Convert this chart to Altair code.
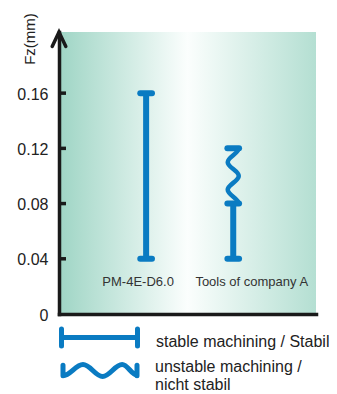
import altair as alt
import pandas as pd

# ---- data ----
categories = ["PM-4E-D6.0", "Tools of company A"]
positions = [1, 2]
stable_low = [0.04, 0.04]
stable_high = [0.16, 0.08]
unstable_low = [None, 0.08]
unstable_high = [None, 0.12]
y_ticks = [0, 0.04, 0.08, 0.12, 0.16]
legend_labels = ["stable machining / Stabil", "unstable machining /\nnicht stabil"]
y_title = "Fz(mm)"

BLUE = "#0a7bc2"
AXIS = "#1a1a1a"
TEXT = "#222222"
FONT = "Liberation Sans"

stable_df = pd.DataFrame({"pos": positions, "v": stable_low, "v2": stable_high})
caps_rows = []
for p, lo, hi, uh in zip(positions, stable_low, stable_high, unstable_high):
    for val in (lo, hi, uh):
        if val is not None:
            caps_rows.append({"pos": p, "v": val})
caps_df = pd.DataFrame(caps_rows)
wave_df = pd.DataFrame(
    [{"pos": p, "lo": lo, "hi": hi} for p, lo, hi in zip(positions, unstable_low, unstable_high) if lo is not None]
)
label_df = pd.DataFrame({"pos": positions, "cat": categories})
tick_df = pd.DataFrame({"v": [t for t in y_ticks if t > 0]})
one = pd.DataFrame({"a": [0]})

x_enc = alt.X(
    "pos:Q",
    scale=alt.Scale(domain=[0, 2.95], nice=False, zero=False),
    axis=alt.Axis(labels=False, ticks=False, grid=False, title=None,
                  domainColor=AXIS, domainWidth=3.5, domainCap="square", zindex=1),
)
y_enc = alt.Y(
    "v:Q",
    scale=alt.Scale(domain=[0, 0.2043], nice=False),
    axis=alt.Axis(values=y_ticks, format=".2~f", ticks=False, grid=False,
                  labelPadding=11, labelFontSize=16, labelFont=FONT, labelColor=TEXT,
                  labelOffset=1,
                  domainColor=AXIS, domainWidth=3.5, domainCap="square",
                  title=y_title, titleAngle=270, titleX=-25, titleY=6.5,
                  titleAlign="center", titleBaseline="alphabetic",
                  titleFontSize=15, titleFont=FONT, titleFontWeight="normal",
                  titleColor=TEXT, zindex=1),
)

gradient = alt.Gradient(
    gradient="linear",
    stops=[
        alt.GradientStop(color="#9fd5c5", offset=0),
        alt.GradientStop(color="#fbfefd", offset=0.5),
        alt.GradientStop(color="#b4dfd2", offset=1),
    ],
    x1=0, x2=1, y1=0, y2=0,
)

bg = alt.Chart(one).mark_rect(color=gradient).encode(
    x=alt.value(0), x2=alt.value("width"), y=alt.value(0), y2=alt.value("height")
)

bars = alt.Chart(stable_df).mark_rule(color=BLUE, strokeWidth=6).encode(
    x=x_enc, y=y_enc, y2="v2:Q"
)

caps = alt.Chart(caps_df).mark_point(
    shape="M-1,0L1,0", size=137, strokeWidth=6, strokeCap="round",
    filled=False, color=BLUE, opacity=1,
).encode(x=x_enc, y=y_enc)

wave_path = ("M0.2,-1 C0.2,-0.815 -0.2,-0.685 -0.2,-0.5 "
             "C-0.2,-0.315 0.2,-0.185 0.2,0 "
             "C0.2,0.185 -0.2,0.315 -0.2,0.5 "
             "C-0.2,0.685 0.2,0.815 0.2,1")
wave = alt.Chart(wave_df).transform_calculate(
    v="(datum.lo + datum.hi) / 2"
).mark_point(
    shape=wave_path, size=3047, strokeWidth=4.5, strokeCap="round",
    filled=False, color=BLUE, opacity=1,
).encode(x=x_enc, y=y_enc)

ticks = alt.Chart(tick_df).mark_rule(color=AXIS, strokeWidth=3.5).encode(
    x=alt.value(0), x2=alt.value(7), y=y_enc
)

arrow = alt.Chart(one).mark_point(
    shape="M-0.94,1L0,-1L0.94,1", size=210, strokeWidth=3.5, strokeCap="round",
    strokeJoin="miter", filled=False, color=AXIS, opacity=1,
).encode(x=alt.value(0), y=alt.value(7.25))

lab1 = alt.Chart(label_df).transform_filter("datum.pos == 1").mark_text(
    fontSize=13, font=FONT, color="#333333", baseline="alphabetic", dx=-8
).encode(x=x_enc, y=alt.datum(0.02), text="cat:N")
lab2 = alt.Chart(label_df).transform_filter("datum.pos == 2").mark_text(
    fontSize=13, font=FONT, color="#333333", baseline="alphabetic", dx=18.5
).encode(x=x_enc, y=alt.datum(0.02), text="cat:N")

leg_stable = alt.Chart(one).mark_point(
    shape="M-1,0L1,0M-1,-0.224L-1,0.224M1,-0.224L1,0.224", size=5776,
    strokeWidth=5, strokeCap="round", filled=False, color=BLUE, opacity=1,
).encode(x=alt.value(40.5), y=alt.value(305.5))

leg_wave_path = ("M-1,0.14 C-0.8,0.14 -0.66,-0.16 -0.46,-0.16 "
                 "C-0.264,-0.16 -0.126,0.16 0.07,0.16 "
                 "C0.266,0.16 0.404,-0.16 0.6,-0.16 "
                 "C0.748,-0.16 0.852,0.12 1,0.12 "
                 "M-1,-0.14L-1,0.14M1,-0.14L1,0.14")
leg_wave = alt.Chart(one).mark_point(
    shape=leg_wave_path, size=5476, strokeWidth=5, strokeCap="round",
    filled=False, color=BLUE, opacity=1,
).encode(x=alt.value(41), y=alt.value(338.5))

leg_t1 = alt.Chart(pd.DataFrame({"t": [legend_labels[0]]})).mark_text(
    align="left", baseline="alphabetic", fontSize=16, font=FONT, color=TEXT
).encode(x=alt.value(97), y=alt.value(315), text="t:N")
leg_t2 = alt.Chart(pd.DataFrame({"t": [legend_labels[1]]})).mark_text(
    align="left", baseline="alphabetic", fontSize=16, font=FONT, color=TEXT,
    lineBreak="\n", lineHeight=18.5,
).encode(x=alt.value(96), y=alt.value(339.5), text="t:N")

chart = alt.layer(
    bg, bars, caps, wave, ticks, arrow, lab1, lab2,
    leg_stable, leg_wave, leg_t1, leg_t2,
).properties(
    width=257, height=282,
    padding={"left": 51, "top": 24, "right": 13, "bottom": 78},
    autosize=alt.AutoSizeParams(type="none"),
).configure_view(strokeWidth=0)

chart.save("out.html", embed_options={"renderer": "svg", "actions": False})
